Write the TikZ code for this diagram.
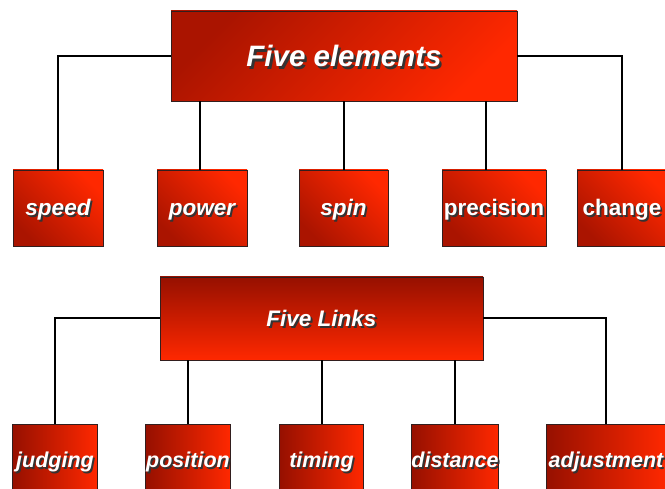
\documentclass[tikz,border=0pt]{standalone}
\usepackage{fontspec}
\setmainfont{Liberation Sans}
\definecolor{dkred}{RGB}{150,16,0}
\definecolor{cornred}{RGB}{170,20,0}
\definecolor{midred}{RGB}{232,34,0}
\definecolor{brred}{RGB}{255,40,0}
\definecolor{edgecol}{RGB}{50,30,30}
\newcommand\shd[1]{\leavevmode\rlap{\kern0.08em\raisebox{-0.08em}{\color{black!80}#1}}#1}
\tikzset{
  box/.style={draw=edgecol, line width=0.9pt, inner sep=0pt, text=white, text depth=0pt},
  topbox/.style={box, top color=cornred, middle color=midred, bottom color=brred, shading angle=45,
     text height=22pt},
  rowone/.style={box, top color=brred, middle color=midred, bottom color=cornred, shading angle=-45,
     minimum height=76pt, text height=16pt},
  itf/.style={font=\fontsize{22.5}{24}\selectfont\bfseries\itshape},
  upr/.style={font=\fontsize{22.5}{24}\selectfont\bfseries},
  linkbox/.style={box, top color=dkred, bottom color=brred, text height=16.5pt},
  rowtwo/.style={box, left color=dkred, right color=brred, text height=16pt,
     minimum height=70pt, font=\fontsize{21.5}{23}\selectfont\bfseries\itshape},
  conn/.style={draw=black, line width=2pt}
}
\begin{document}
\begin{tikzpicture}[x=1pt,y=-1pt]
\useasboundingbox (0,0) rectangle (665,489);
\clip (0,0) rectangle (665,489);
% top tree
\node[topbox, minimum width=346pt, minimum height=90pt, font=\fontsize{29.5}{32}\selectfont\bfseries\itshape] (fe) at (344,56) {\shd{Five elements}};
\node[rowone, itf, minimum width=90pt] (speed) at (58,208) {\shd{speed}};
\node[rowone, itf, minimum width=90pt] (power) at (202,208) {\shd{power}};
\node[rowone, itf, minimum width=89pt] (spin) at (343.5,208) {\shd{spin}};
\node[rowone, upr, minimum width=104pt] (prec) at (494,208) {\shd{precision}};
\node[rowone, upr, minimum width=90pt] (change) at (622,208) {\shd{change}};
\coordinate (pwc) at ([xshift=-2pt]power.north);
\coordinate (pc) at ([xshift=-8pt]prec.north);
\draw[conn] (fe.west) -| (speed.north);
\draw[conn] (fe.east) -| (change.north);
\draw[conn] (fe.south -| pwc) -- (pwc);
\draw[conn] (fe.south -| spin.north) -- (spin.north);
\draw[conn] (fe.south -| pc) -- (pc);
% bottom tree
\node[linkbox, minimum width=323pt, minimum height=83pt, font=\fontsize{22.5}{24}\selectfont\bfseries\itshape] (fl) at (321.5,318.5) {\shd{Five Links}};
\node[rowtwo, minimum width=85pt] (judg) at (55,459.5) {\shd{judging}};
\node[rowtwo, minimum width=85pt] (posi) at (188,459.5) {\shd{position}};
\node[rowtwo, minimum width=84pt] (timi) at (321.5,459.5) {\shd{timing}};
\node[rowtwo, minimum width=84pt] (dist) at (455,459.5) {\shd{distance}};
\node[rowtwo, minimum width=120pt] (adju) at (606,459.5) {\shd{adjustment}};
\draw[conn] (fl.west) -| (judg.north);
\draw[conn] (fl.east) -| (adju.north);
\draw[conn] (fl.south -| posi.north) -- (posi.north);
\draw[conn] (fl.south -| timi.north) -- (timi.north);
\draw[conn] (fl.south -| dist.north) -- (dist.north);
\end{tikzpicture}
\end{document}
